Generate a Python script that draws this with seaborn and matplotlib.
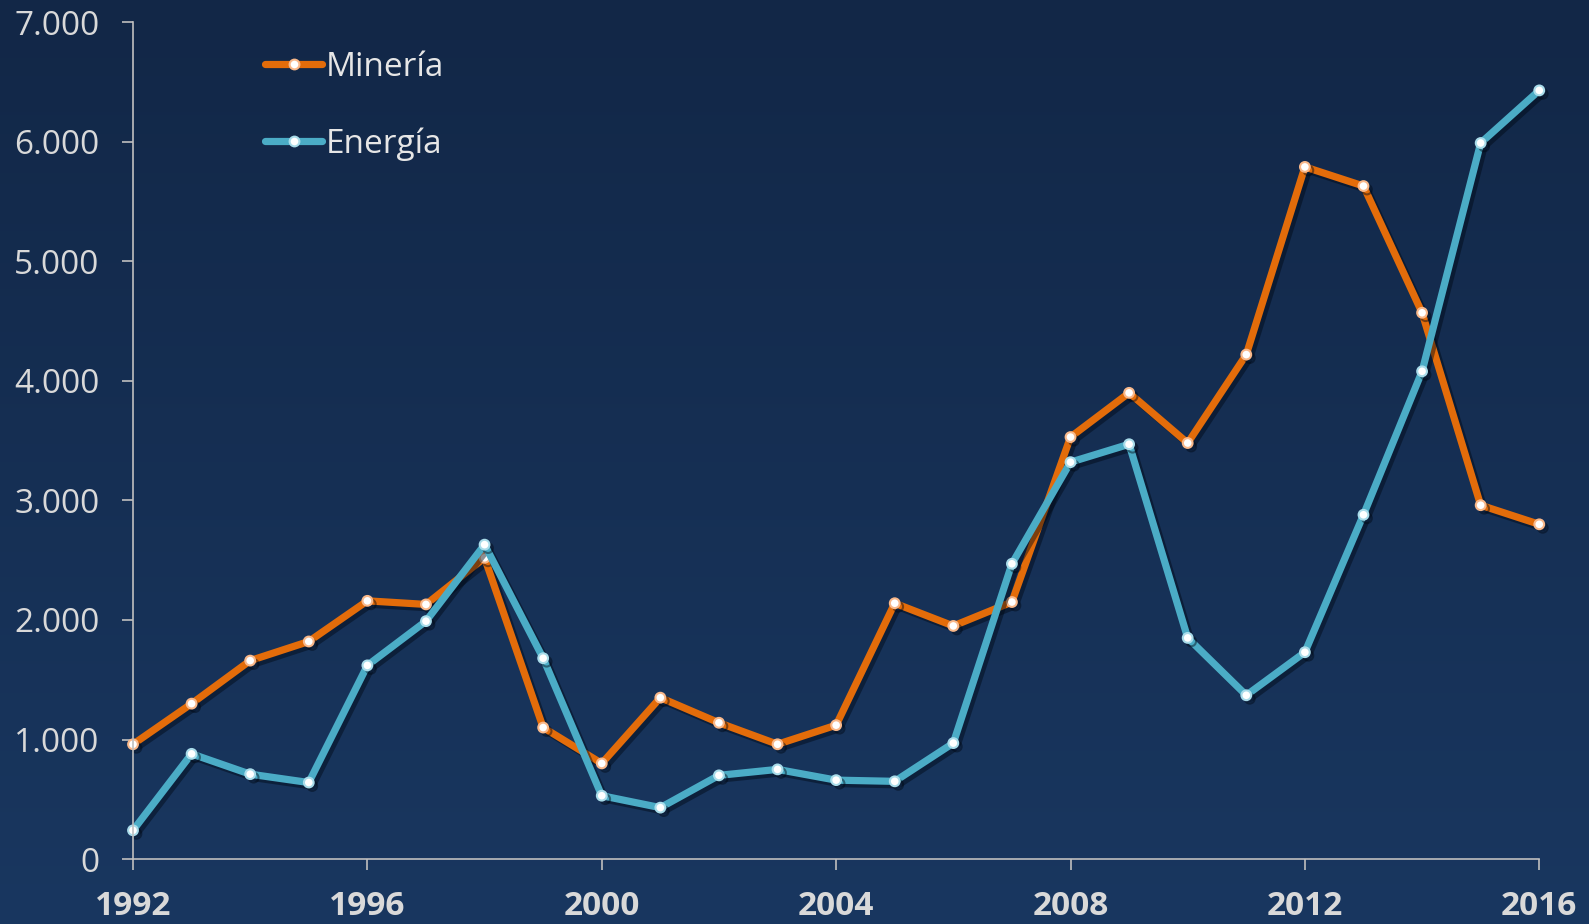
import numpy as np
import pandas as pd
import seaborn as sns
import matplotlib
matplotlib.use('Agg')
from matplotlib import pyplot as plt
from matplotlib import patheffects as pe
from matplotlib.ticker import FuncFormatter

# datos
anios = list(range(1992, 2017))
mineria = [960, 1300, 1660, 1820, 2160, 2130, 2520, 1100, 800, 1350, 1140, 960, 1120,
           2140, 1950, 2150, 3530, 3900, 3480, 4220, 5790, 5630, 4570, 2960, 2800]
energia = [240, 880, 710, 640, 1620, 1990, 2630, 1680, 530, 430, 700, 750, 660,
           650, 970, 2470, 3320, 3470, 1850, 1370, 1730, 2880, 4080, 5990, 6430]
series = ['Minería', 'Energía']
colores = ['#E36C0A', '#4BACC6']
bordes = ['#F9B88A', '#A9DCEA']

df = pd.DataFrame({
    'anio': anios * 2,
    'valor': mineria + energia,
    'serie': ['Minería'] * len(anios) + ['Energía'] * len(anios),
})

sns.set_theme(style='white')
plt.rcParams['font.family'] = ['Open Sans', 'DejaVu Sans']

fig = plt.figure(figsize=(15.89, 9.24), dpi=100)

# fondo degradado
bg = fig.add_axes([0, 0, 1, 1], zorder=-1)
top = np.array([0x12, 0x27, 0x47]) / 255
bot = np.array([0x19, 0x37, 0x60]) / 255
t = np.linspace(0, 1, 256)[:, None]
grad = (top[None, :] * (1 - t) + bot[None, :] * t)[:, None, :]
bg.imshow(grad, aspect='auto', extent=[0, 1, 0, 1])
bg.axis('off')

ax = fig.add_axes([0.0837, 0.0703, 0.885, 0.9056])
ax.set_facecolor('none')

sns.lineplot(data=df, x='anio', y='valor', hue='serie', hue_order=series,
             palette=colores, linewidth=5.2, marker='o', markersize=7,
             markerfacecolor='white', markeredgewidth=1.5, ax=ax, legend=False)

for line, borde in zip(ax.lines, bordes):
    line.set_markeredgecolor(borde)
    line.set_solid_joinstyle('round')
    line.set_clip_on(False)
    line.set_path_effects([pe.SimpleLineShadow(offset=(2.5, -2.5), shadow_color='#000814', alpha=0.45),
                           pe.Normal()])

ax.set_xlim(1992, 2016)
ax.set_ylim(0, 7000)
ax.set_xticks(range(1992, 2017, 4))
ax.set_yticks(range(0, 7001, 1000))
ax.yaxis.set_major_formatter(FuncFormatter(lambda v, p: f'{int(v):,}'.replace(',', '.')))
ax.set_xlabel('')
ax.set_ylabel('')

for s in ['top', 'right']:
    ax.spines[s].set_visible(False)
for s in ['left', 'bottom']:
    ax.spines[s].set_color('#BFBFBF')
    ax.spines[s].set_linewidth(1.2)

ax.tick_params(axis='x', colors='#BFBFBF', labelcolor='#D9D9D9', length=8, width=1.2,
               direction='out', pad=14, labelsize=24, bottom=True)
ax.tick_params(axis='y', colors='#BFBFBF', labelcolor='#D9D9D9', length=8, width=1.2,
               direction='out', pad=16, labelsize=24, left=True)
for lab in ax.get_xticklabels():
    lab.set_fontweight('bold')

handles = [plt.Line2D([], [], color=c, lw=5.2, marker='o', markersize=7,
                      markerfacecolor='white', markeredgecolor=b, markeredgewidth=1.5,
                      solid_capstyle='round')
           for c, b in zip(colores, bordes)]
leg = ax.legend(handles, series, loc='upper left', bbox_to_anchor=(0.094, 0.966),
                frameon=False, fontsize=24, borderpad=0, borderaxespad=0,
                handlelength=1.7, handletextpad=0.12, labelspacing=1.3, markerscale=1)
for txt in leg.get_texts():
    txt.set_color('#E6E6E6')

fig.savefig('out.png', dpi=100)
